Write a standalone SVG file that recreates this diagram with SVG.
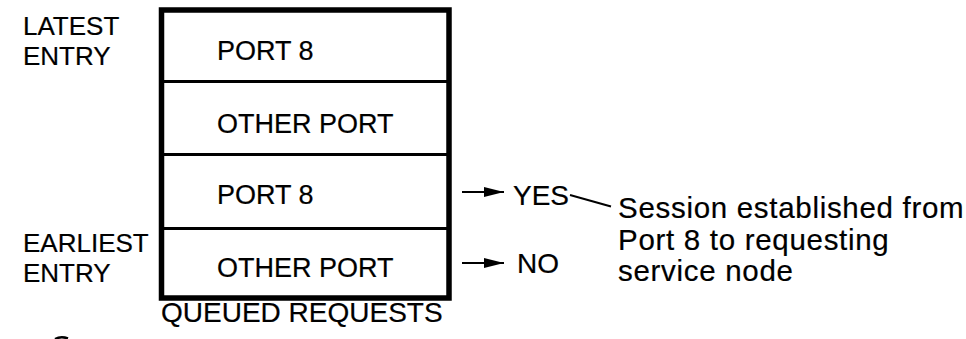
<svg xmlns="http://www.w3.org/2000/svg" width="966" height="339" viewBox="0 0 966 339">
  <style>
    .t { font-family: "Liberation Sans", Arial, sans-serif; fill: #000; stroke: #000; stroke-width: 0.2; }
    .lbl { font-size: 26px; }
    .cell { font-size: 27px; }
    .res { font-size: 28px; }
    .note { font-size: 29.5px; letter-spacing: 0.7px; }
    .frame { fill: #fff; stroke: #000; stroke-width: 5.5; }
    .div { stroke: #000; stroke-width: 3; }
    .conn { stroke: #000; stroke-width: 2; fill: none; }
  </style>
  <defs>
    <marker id="arrow" markerWidth="22" markerHeight="12" refX="20" refY="6" orient="auto" markerUnits="userSpaceOnUse">
      <polygon points="0,1 20,6 0,11" fill="#000"/>
    </marker>
  </defs>
  <rect width="966" height="339" fill="#fff"/>

  <!-- side labels -->
  <g id="latest-label">
    <text class="t lbl" x="23" y="35">LATEST</text>
    <text class="t lbl" x="23" y="65">ENTRY</text>
  </g>
  <g id="earliest-label">
    <text class="t lbl" x="23" y="252">EARLIEST</text>
    <text class="t lbl" x="23" y="282">ENTRY</text>
  </g>

  <!-- request queue -->
  <g id="queue">
    <rect class="frame" x="161.5" y="10" width="287.5" height="288"/>
    <line class="div" x1="161.5" y1="81.5" x2="449" y2="81.5"/>
    <line class="div" x1="161.5" y1="154.5" x2="449" y2="154.5"/>
    <line class="div" x1="161.5" y1="228.5" x2="449" y2="228.5"/>
  </g>
  <g id="entry-1"><text class="t cell" x="217" y="60">PORT 8</text></g>
  <g id="entry-2"><text class="t cell" x="217" y="133">OTHER PORT</text></g>
  <g id="entry-3"><text class="t cell" x="217" y="204">PORT 8</text></g>
  <g id="entry-4"><text class="t cell" x="217" y="277">OTHER PORT</text></g>
  <g id="queue-caption"><text class="t res" x="161" y="322">QUEUED REQUESTS</text></g>

  <!-- outcomes -->
  <g id="yes"><text class="t res" x="513" y="205">YES</text></g>
  <g id="no"><text class="t res" x="517" y="273">NO</text></g>
  <g id="session-note">
    <text class="t note" x="618" y="218">Session established from</text>
    <text class="t note" x="618" y="250">Port 8 to requesting</text>
    <text class="t note" x="618" y="281">service node</text>
  </g>

  <!-- connectors -->
  <g id="connectors">
    <line class="conn" x1="462" y1="192" x2="504" y2="192" marker-end="url(#arrow)"/>
    <line class="conn" x1="462" y1="263" x2="504" y2="263" marker-end="url(#arrow)"/>
    <line class="conn" x1="570" y1="195" x2="611" y2="206.5"/>
  </g>

  <path d="M55,339 Q61,336 68,338.5" fill="none" stroke="#000" stroke-width="2.5"/>
</svg>
